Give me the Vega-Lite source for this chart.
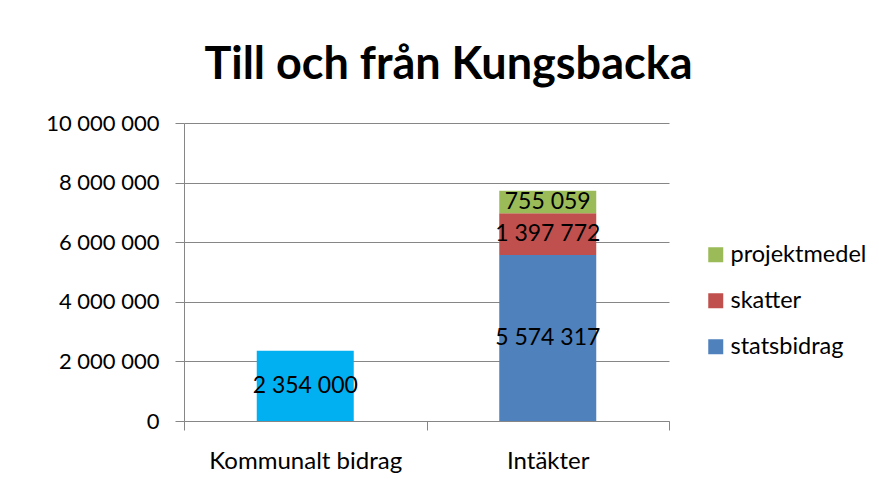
{
  "$schema": "https://vega.github.io/schema/vega-lite/v6.json",
  "autosize": "none",
  "width": 485,
  "height": 298,
  "padding": {"left": 184, "top": 123, "right": 210, "bottom": 76},
  "background": "white",
  "config": {
    "locale": {"number": {"decimal": ",", "thousands": " ", "grouping": [3], "currency": ["", " kr"]}},
    "view": {"stroke": null},
    "font": "Lato"
  },
  "title": {
    "text": "Till och från Kungsbacka",
    "font": "Lato",
    "fontSize": 45,
    "fontWeight": "bold",
    "color": "#000000",
    "anchor": "middle",
    "frame": "group",
    "dx": 22,
    "baseline": "alphabetic",
    "offset": -12
  },
  "data": {
    "values": [
      {"category": "Kommunalt bidrag", "type": "Kommunalt bidrag", "value": 2354000, "order": 0},
      {"category": "Intäkter", "type": "statsbidrag", "value": 5574317, "order": 1},
      {"category": "Intäkter", "type": "skatter", "value": 1397772, "order": 2},
      {"category": "Intäkter", "type": "projektmedel", "value": 755059, "order": 3}
    ]
  },
  "transform": [
    {"stack": "value", "groupby": ["category"], "sort": [{"field": "order", "order": "ascending"}], "as": ["v0", "v1"]},
    {"calculate": "(datum.v0 + datum.v1) / 2", "as": "mid"}
  ],
  "encoding": {
    "x": {
      "field": "category",
      "type": "nominal",
      "scale": {"domain": ["Kommunalt bidrag", "Intäkter"], "paddingInner": 0, "paddingOuter": 0},
      "axis": {
        "title": null,
        "labelAngle": 0,
        "labelFont": "Lato",
        "labelFontSize": 24,
        "labelColor": "#000000",
        "labelPadding": 19,
        "labelLimit": 0,
        "tickBand": "extent",
        "tickSize": 9,
        "tickColor": "#868686",
        "domainColor": "#868686",
        "grid": false
      }
    }
  },
  "layer": [
    {
      "mark": {"type": "bar", "width": {"band": 0.4}},
      "encoding": {
        "y": {
          "field": "v0",
          "type": "quantitative",
          "scale": {"domain": [0, 10000000], "nice": false},
          "axis": {
            "title": null,
            "values": [0, 2000000, 4000000, 6000000, 8000000, 10000000],
            "format": ",d",
            "labelFont": "Lato",
            "labelFontSize": 22,
            "labelColor": "#000000",
            "labelPadding": 16,
            "tickSize": 9,
            "tickColor": "#868686",
            "domainColor": "#868686",
            "grid": true,
            "gridColor": "#868686"
          }
        },
        "y2": {"field": "v1"},
        "color": {
          "field": "type",
          "type": "nominal",
          "scale": {
            "domain": ["statsbidrag", "skatter", "projektmedel", "Kommunalt bidrag"],
            "range": ["#4F81BD", "#C0504D", "#9BBB59", "#00B0F0"]
          },
          "legend": {
            "title": null,
            "values": ["projektmedel", "skatter", "statsbidrag"],
            "orient": "none",
            "legendX": 520,
            "legendY": 120,
            "symbolType": "square",
            "symbolSize": 225,
            "symbolStrokeWidth": 0,
            "labelFont": "Lato",
            "labelFontSize": 23.5,
            "labelColor": "#000000",
            "labelOffset": 3,
            "rowPadding": 21,
            "padding": 0
          }
        }
      }
    },
    {
      "mark": {"type": "text", "font": "Lato", "fontSize": 23, "color": "#000000", "baseline": "middle", "align": "center"},
      "encoding": {
        "y": {"field": "mid", "type": "quantitative"},
        "text": {"field": "value", "type": "quantitative", "format": ",d"}
      }
    }
  ]
}
